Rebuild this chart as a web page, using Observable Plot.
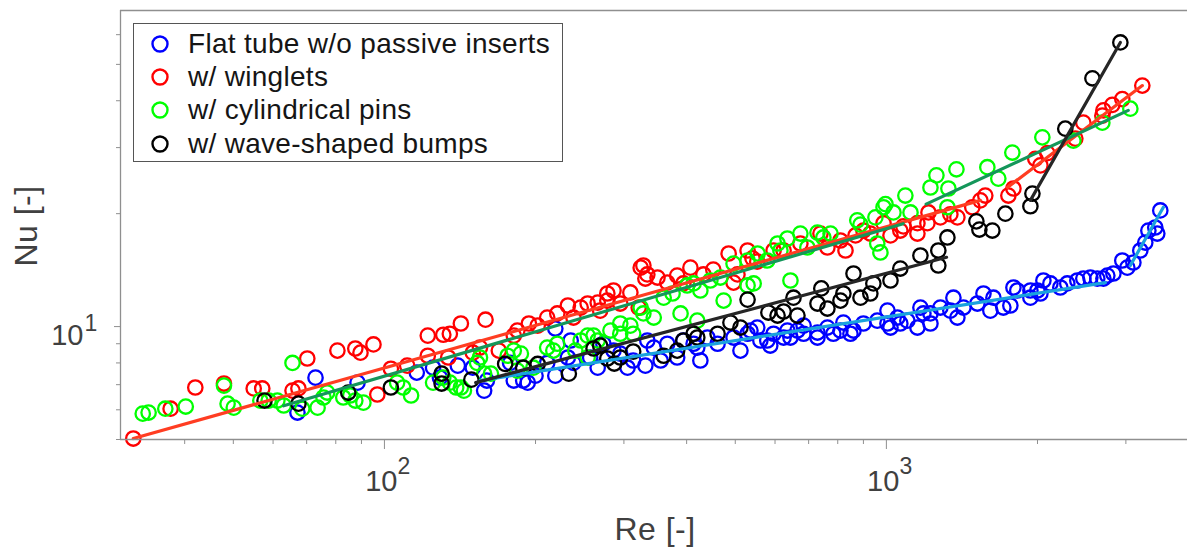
<!DOCTYPE html>
<html><head><meta charset="utf-8">
<script src="https://cdn.jsdelivr.net/npm/d3@7"></script>
<script src="https://cdn.jsdelivr.net/npm/@observablehq/plot@0.6"></script>
<style>
body{margin:0;background:#fff;font-family:"Liberation Sans",Arial,sans-serif;}
#wrap{position:relative;width:1187px;height:552px;overflow:hidden;}
#wrap > svg{position:absolute;left:0;top:0;}
.lab{position:absolute;color:#404040;white-space:nowrap;line-height:1;letter-spacing:0.5px;}
#legend{position:absolute;left:133px;top:23px;width:430px;height:139px;border:1px solid #555;background:#fff;box-sizing:border-box;}
#legend .row{position:absolute;left:0;height:30px;display:flex;align-items:center;font-size:28px;letter-spacing:0.3px;color:#151515;white-space:nowrap;}
#legend .row svg{position:static;margin-left:16px;margin-right:18px;flex:none;}
</style></head><body><div id="wrap"></div>
<script>
// ---- data (Re, Nu) ----
const seriesNames = ["Flat tube w/o passive inserts","w/ winglets","w/ cylindrical pins","w/ wave-shaped bumps"];
const seriesColors = ["#0000ff","#ff0000","#00ff00","#000000"];
const fitColors = ["#1aa2de","#ff3d22","#14965a","#262626"];

const blueRe = [67.1,72.9,88.4,116,125,129,140,150,158,160,178,181,189,193,200,211,219,219,232,235,238,257,266,273,286,295,305,313,331,334,344,355,366,383,394,413,420,426,440,461,496,512,529,536,553,561,579,587,596,624,635,644,665,684,684,729,729,763,784,810,821,848,860,900,959,1005,1005,1019,1052,1066,1101,1153,1169,1185,1224,1224,1281,1341,1360,1385,1424,1518,1561,1611,1634,1710,1766,1791,1823,1936,1936,1999,2027,2055,2122,2221,2293,2401,2468,2549,2631,2706,2755,2833,2951,3020,3105,3205,3279,3326,3433,3465,3513];
const blueNu = [5.90,7.31,7.09,7.54,7.77,7.31,7.87,7.77,6.75,7.18,8.0,7.18,7.18,7.09,7.40,8.0,9.88,7.40,8.27,9.18,8.0,8.27,7.77,9.0,8.63,8.47,7.77,8.12,7.87,9.18,8.79,8.12,9.0,8.27,9.18,9.0,8.79,8.12,9.35,9.0,9.35,8.63,9.57,9.76,9.94,9.18,9.18,8.9,9.57,9.35,9.76,9.35,9.76,10.06,9.57,9.64,9.35,9.94,9.57,9.76,10.25,9.57,9.76,10.19,10.37,11.03,10.19,9.94,10.57,10.19,10.37,9.94,11.24,10.84,10.84,10.19,11.24,11.03,11.94,10.57,11.24,11.52,12.25,11.03,11.94,11.24,11.38,12.71,12.48,12.48,11.94,12.48,12.25,13.27,13.03,12.71,13.03,13.27,13.43,13.51,13.43,13.43,13.68,13.85,15.0,14.36,14.82,15.95,16.75,18.03,18.37,17.70,20.4];

const redRe = [31.6,37.5,42.0,47.9,54.9,57.1,65.6,67.4,70.2,80.6,87.5,89.6,95.1,96.8,103,111,122,122,131,135,134,142,150,155,159,169,181,184,194,202,211,221,232,238,246,254,266,269,278,278,286,295,309,321,324,331,334,328,350,366,383,394,407,432,452,485,496,505,529,541,553,596,624,674,739,763,810,829,868,900,929,987,1019,1066,1081,1153,1153,1207,1213,1281,1341,1385,1483,1539,1574,1750,1791,1980,2027,2092,2379,2468,2693,2706,2819,2951,3235];
const redNu = [5.03,6.04,6.88,7.05,6.84,6.84,6.75,6.84,8.22,8.63,8.74,8.52,8.96,6.59,7.72,7.87,9.46,8.36,9.51,9.57,8.27,10.19,8.52,8.79,10.43,8.63,9.46,9.76,10.19,10.06,10.57,10.84,11.38,10.57,11.24,11.52,11.59,11.03,12.25,11.73,12.48,11.52,12.33,11.24,14.36,13.43,13.77,14.55,13.51,13.1,13.68,13.03,14.36,13.77,14.19,15.66,13.1,13.77,15.95,15.2,14.9,15.95,15.95,16.65,17.7,16.25,16.96,15.95,17.5,18.03,17.7,18.86,17.5,18.03,18.5,18.86,17.7,18.86,20.15,19.55,19.93,19.55,20.8,21.7,22.35,22.35,23.34,28.0,26.9,29.0,31.7,34.97,36.5,37.7,39.0,40.4,43.9];

const greenRe = [33.0,33.9,36.6,40.2,47.9,48.7,50.1,56.6,58.8,61.2,63.0,65.6,68.6,73.6,75.6,76.9,82.8,85.5,87.5,90.8,106,109,113,125,131,135,139,142,144,153,155,158,163,176,181,184,187,198,211,217,221,240,246,254,261,254,266,282,295,295,309,313,324,328,344,360,375,389,401,413,420,426,446,467,474,496,529,529,544,554,579,607,615,635,644,674,696,729,749,774,875,888,951,959,973,987,996,1033,1091,1117,1224,1258,1323,1329,1379,1589,1671,1782,2045,2358,2693,3062];
const greenNu = [5.86,5.90,6.04,6.12,6.96,6.23,6.08,6.35,6.35,6.35,6.16,8.0,6.04,6.08,6.47,6.67,6.47,6.55,6.35,6.27,7.09,6.88,6.55,7.09,7.31,7.09,6.88,6.88,6.75,8.0,8.27,7.49,7.49,8.36,8.63,7.63,8.47,7.77,8.79,8.63,9.0,8.63,9.18,9.46,9.46,8.27,9.18,9.76,10.19,9.57,10.06,9.57,11.24,10.84,10.57,11.94,12.25,10.84,12.87,13.03,10.37,12.48,13.27,13.51,11.73,14.72,15.0,12.87,13.03,15.66,15.0,16.65,15.95,17.17,13.27,17.7,16.25,17.81,17.28,17.7,19.2,18.7,19.55,16.65,15.76,20.8,21.2,20.15,22.35,20.15,23.48,25.3,20.8,23.34,26.26,26.6,24.8,29.1,31.95,31.3,34.97,38.1];

const blackRe = [57.7,67.4,84.7,103,130,130,149,174,189,202,233,261,269,278,287,295,313,360,383,394,413,420,461,489,512,529,582,607,624,653,665,729,742,763,810,821,860,888,929,942,1019,1066,1169,1269,1269,1323,1511,1532,1626,1726,1936,1954,2272,2573,2925];
const blackNu = [6.35,6.23,6.67,6.88,7.49,7.05,7.22,7.95,7.77,7.95,7.49,8.74,8.9,8.22,7.97,8.27,8.58,8.36,8.63,9.18,9.57,9.35,9.57,10.25,9.94,11.8,10.9,10.7,10.97,11.94,10.7,11.52,12.64,11.17,11.73,12.25,13.85,11.94,12.25,13.03,13.27,14.28,15.47,15.95,14.55,17.28,19.08,18.14,18.03,20.0,20.93,22.63,33.7,45.9,57.2];

// piecewise power-law fits: two segments each (points 0-1 and 2-3)
const fitBlueRe = [155,2730,3062,3563],   fitBlueNu = [7.18,13.1,14.55,20.8];
const fitRedRe = [31.6,1539,1742,3235],   fitRedNu = [5.03,21.7,23.5,43.9];
const fitGreenRe = [63,1080,1200,3033],   fitGreenNu = [6.15,18.8,21.2,37.7];
const fitBlackRe = [152,1318,1936,2925],  fitBlackNu = [7.09,15.3,21.7,57.2];

// axes
const reDomain = [29.8, 3980];
const nuDomain = [5, 69.6];
const xMajor = [100, 1000], xMajorExp = ["2", "3"];
const xMinor = [40,50,60,70,80,90,200,300,400,500,600,700,800,900,2000,3000];
const yMajor = [10], yMajorExp = ["1"];
const yMinor = [5,6,7,8,9,20,30,40,50,60];
const xLabel = "Re [-]", yLabel = "Nu [-]";

// ---- build ----
const zip = (a, b) => a.map((v, i) => ({Re: v, Nu: b[i], seg: i >> 1}));
const scatter = [zip(blueRe, blueNu), zip(redRe, redNu), zip(greenRe, greenNu), zip(blackRe, blackNu)];
const fits = [zip(fitBlueRe, fitBlueNu), zip(fitRedRe, fitRedNu), zip(fitGreenRe, fitGreenNu), zip(fitBlackRe, fitBlackNu)];

const axisCol = "#8f8f8f", textCol = "#404040", font = "Liberation Sans, Arial, sans-serif";
const marks = [];
scatter.forEach((d, i) => marks.push(Plot.dot(d, {x: "Re", y: "Nu", r: 7.2, stroke: seriesColors[i], strokeWidth: 2.3, fill: "none"})));
fits.forEach((d, i) => marks.push(Plot.line(d, {x: "Re", y: "Nu", z: "seg", stroke: fitColors[i], strokeWidth: 3.2})));
marks.push(
  Plot.ruleX([reDomain[0]], {stroke: axisCol, strokeWidth: 1.3}),
  Plot.ruleY([nuDomain[0]], {stroke: axisCol, strokeWidth: 1.3}),
  Plot.ruleY([nuDomain[1]], {stroke: axisCol, strokeWidth: 1.3}),
  Plot.axisX({ticks: xMinor, tickSize: 5, tickFormat: () => "", stroke: axisCol, label: null}),
  Plot.axisX({ticks: xMajor, tickSize: 10, tickFormat: () => "", stroke: axisCol, label: null}),
  Plot.axisY({ticks: yMinor, tickSize: 4, tickFormat: () => "", stroke: axisCol, label: null}),
  Plot.axisY({ticks: yMajor, tickSize: 6, tickFormat: () => "", stroke: axisCol, label: null}),
  Plot.text(xMajor, {x: d => d, frameAnchor: "bottom", dx: 13, dy: 51, text: () => "10", textAnchor: "end", fontSize: 29, fill: textCol, fontFamily: font}),
  Plot.text(xMajor, {x: d => d, frameAnchor: "bottom", dx: 13, dy: 34, text: (d, i) => xMajorExp[i], textAnchor: "start", fontSize: 23, fill: textCol, fontFamily: font}),
  Plot.text(yMajor, {y: d => d, frameAnchor: "left", dx: -37, dy: 9, text: () => "10", textAnchor: "end", fontSize: 29, fill: textCol, fontFamily: font}),
  Plot.text(yMajor, {y: d => d, frameAnchor: "left", dx: -36, dy: -3, text: (d, i) => yMajorExp[i], textAnchor: "start", fontSize: 23, fill: textCol, fontFamily: font})
);

const chart = Plot.plot({
  width: 1187, height: 552,
  marginLeft: 120, marginRight: 0, marginTop: 10, marginBottom: 113,
  x: {type: "log", domain: reDomain, axis: null},
  y: {type: "log", domain: nuDomain, axis: null},
  style: {background: "#fff", overflow: "visible"},
  marks
});
const wrap = document.getElementById("wrap");
wrap.appendChild(chart);

const xl = document.createElement("div");
xl.className = "lab"; xl.textContent = xLabel;
Object.assign(xl.style, {left: "655px", top: "513px", fontSize: "32px", transform: "translateX(-50%)"});
wrap.appendChild(xl);
const yl = document.createElement("div");
yl.className = "lab"; yl.textContent = yLabel;
Object.assign(yl.style, {left: "26px", top: "226px", fontSize: "32px", transform: "translate(-50%,-50%) rotate(-90deg)"});
wrap.appendChild(yl);

const lg = document.createElement("div"); lg.id = "legend";
const rowY = [43, 76, 109, 143];
seriesNames.forEach((name, i) => {
  const r = document.createElement("div"); r.className = "row";
  r.style.top = (rowY[i] - 23 - 15) + "px";
  r.innerHTML = `<svg width="20" height="20"><circle cx="10" cy="10" r="7.5" fill="none" stroke="${seriesColors[i]}" stroke-width="2.4"/></svg><span>${name}</span>`;
  lg.appendChild(r);
});
wrap.appendChild(lg);
</script></body></html>
